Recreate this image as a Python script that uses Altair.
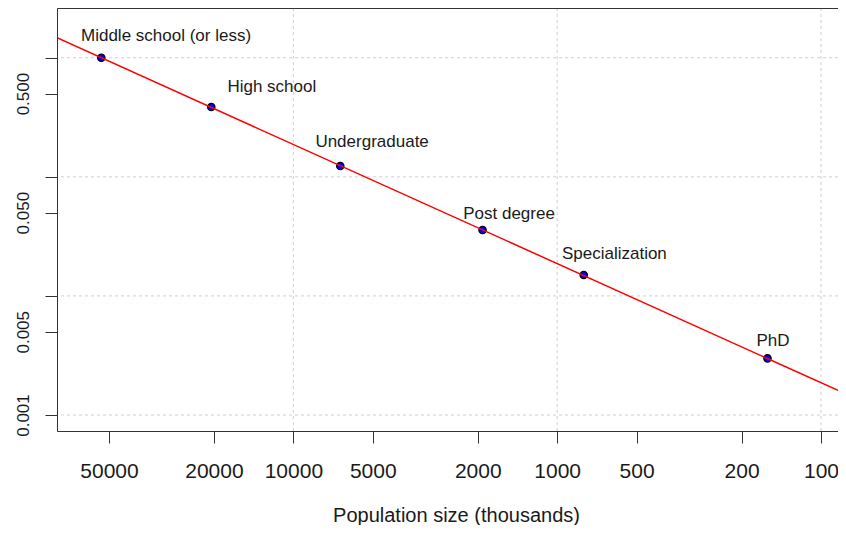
import altair as alt
import pandas as pd

# ---- data ----
levels = ["Middle school (or less)", "High school", "Undergraduate",
          "Post degree", "Specialization", "PhD"]
population = [53460, 20470, 6640, 1918, 793, 159.5]          # thousands
proportion = [1.0, 0.3855, 0.1232, 0.0358, 0.01498, 0.00299]
label_x = [30380, 12070, 5030, 1522, 607, 152]              # text anchors (data units)
label_y = [1.389, 0.518, 0.179, 0.0442, 0.0204, 0.00382]

fit_x = [78700, 86.2]
fit_y = [1.47, 0.00161]

x_ticks = [50000, 20000, 10000, 5000, 2000, 1000, 500, 200, 100]
y_ticks = [1, 0.5, 0.1, 0.05, 0.01, 0.005, 0.001]
y_labeled = [0.5, 0.05, 0.005, 0.001]
x_grid = [10000, 1000, 100]
y_grid = [1, 0.1, 0.01, 0.001]
x_domain = [86.2, 78700]
y_domain = [0.000734, 2.615]

FONT = "Liberation Sans"
INK = "#1a1a1a"
AX = "#333333"

pts = pd.DataFrame({"level": levels, "pop": population, "prop": proportion})
lbl = pd.DataFrame({"level": levels, "lx": label_x, "ly": label_y})
fit = pd.DataFrame({"fx": fit_x, "fy": fit_y})
gx = pd.DataFrame({"gx": x_grid})
gy = pd.DataFrame({"gy": y_grid})

xs = alt.Scale(type="log", domain=x_domain, reverse=True, nice=False)
ys = alt.Scale(type="log", domain=y_domain, nice=False)

lab_list = ",".join(str(v) for v in y_labeled)
y_label_expr = f"indexof([{lab_list}], datum.value) >= 0 ? format(datum.value, '.3f') : ''"

grid_style = dict(color="#cfcfcf", strokeDash=[3, 3], strokeWidth=1)

grid_h = alt.Chart(gy).mark_rule(**grid_style).encode(
    y=alt.Y("gy:Q", scale=ys, axis=alt.Axis(
        orient="left", values=y_ticks, grid=False, zindex=1,
        tickSize=12, tickColor=AX, tickWidth=1, domainColor=AX, domainWidth=1,
        labelFont=FONT, labelFontSize=17, labelColor=INK, labelAngle=270,
        labelAlign="center", labelBaseline="alphabetic", labelPadding=17,
        labelOverlap=False, labelFlush=False, labelExpr=y_label_expr,
        title=None))
)
grid_v = alt.Chart(gx).mark_rule(**grid_style).encode(
    x=alt.X("gx:Q", scale=xs, axis=None)
)

points = alt.Chart(pts).mark_circle(
    size=55, color="#0000ff", stroke="black", strokeWidth=1.2, opacity=1
).encode(
    x=alt.X("pop:Q", scale=xs, axis=alt.Axis(
        orient="bottom", values=x_ticks, format="d", grid=False, zindex=1,
        tickSize=12, tickColor=AX, tickWidth=1, domainColor=AX, domainWidth=1,
        labelFont=FONT, labelFontSize=21, labelColor=INK,
        labelBaseline="alphabetic", labelAlign="center", labelPadding=34,
        labelOverlap=False, labelFlush=False,
        title="Population size (thousands)", titleFont=FONT, titleFontSize=20,
        titleFontWeight="normal", titleColor=INK, titleX=399, titleY=90,
        titleAlign="center", titleBaseline="alphabetic")),
    y=alt.Y("prop:Q", scale=ys, axis=None),
)

line = alt.Chart(fit).mark_line(color="#ff0000", strokeWidth=1.5, clip=True).encode(
    x=alt.X("fx:Q", scale=xs, axis=alt.Axis(
        orient="top", labels=False, ticks=False, grid=False, domain=True, zindex=1,
        domainColor=AX, domainWidth=1, title=None)),
    y=alt.Y("fy:Q", scale=ys, axis=None),
)

texts = alt.Chart(lbl).mark_text(
    align="center", baseline="alphabetic", font=FONT, fontSize=17, color=INK
).encode(
    x=alt.X("lx:Q", scale=xs, axis=None),
    y=alt.Y("ly:Q", scale=ys, axis=None),
    text="level:N",
)

chart = alt.layer(grid_h, grid_v, points, line, texts).resolve_axis(
    x="independent", y="independent"
).properties(
    width=781, height=423,
    autosize=alt.AutoSizeParams(type="none"),
    padding={"left": 49, "top": 0, "right": 0, "bottom": 94},
    background="white",
).configure_view(stroke=None)

chart.save("out.html", embed_options={"renderer": "svg", "actions": False})
